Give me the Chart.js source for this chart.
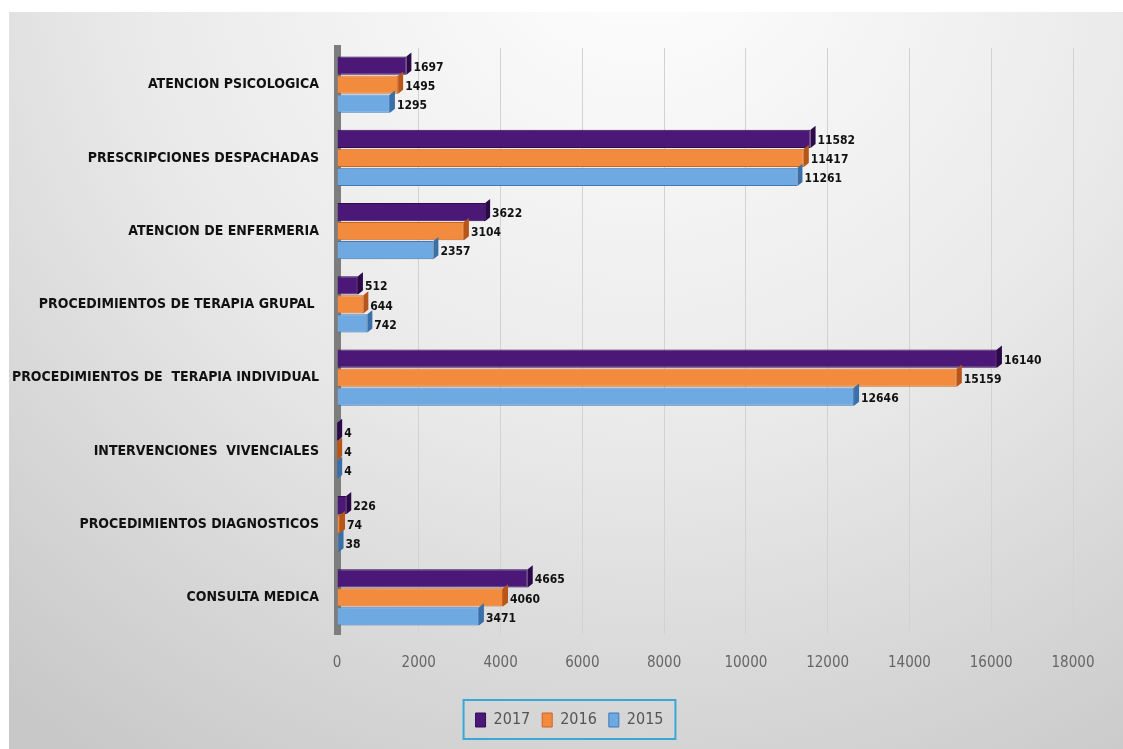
<!DOCTYPE html>
<html>
<head>
<meta charset="utf-8">
<script src="https://cdn.jsdelivr.net/npm/chart.js@4.4.1/dist/chart.umd.min.js"></script>
<style>
  html, body { margin: 0; padding: 0; background: #ffffff; }
  #wrap { width: 1123px; height: 749px; }
</style>
</head>
<body>
<div id="wrap"><canvas id="myChart" width="1123" height="749"></canvas></div>
<script>
const categories = [
  "ATENCION PSICOLOGICA",
  "PRESCRIPCIONES DESPACHADAS",
  "ATENCION DE ENFERMERIA",
  "PROCEDIMIENTOS DE TERAPIA GRUPAL ",
  "PROCEDIMIENTOS DE  TERAPIA INDIVIDUAL",
  "INTERVENCIONES  VIVENCIALES",
  "PROCEDIMIENTOS DIAGNOSTICOS",
  "CONSULTA MEDICA"
];
const values2017 = [1697, 11582, 3622, 512, 16140, 4, 226, 4665];
const values2016 = [1495, 11417, 3104, 644, 15159, 4, 74, 4060];
const values2015 = [1295, 11261, 2357, 742, 12646, 4, 38, 3471];
const xTicks = [0, 2000, 4000, 6000, 8000, 10000, 12000, 14000, 16000, 18000];

const FONT = "'DejaVu Sans Condensed', 'Liberation Sans Narrow', 'Open Sans', sans-serif";

// gray panel behind everything
const backgroundPanel = {
  id: "backgroundPanel",
  beforeDraw(chart) {
    const c = chart.ctx;
    const g = c.createRadialGradient(640, -80, 50, 640, -80, 1000);
    g.addColorStop(0, "#fdfdfd");
    g.addColorStop(0.5, "#e9e9e9");
    g.addColorStop(1, "#c8c8c8");
    c.save();
    c.fillStyle = "#ffffff";
    c.fillRect(0, 0, chart.width, chart.height);
    c.fillStyle = g;
    c.fillRect(9, 12, chart.width - 9, chart.height - 12);
    c.restore();
  }
};

// little 3d end caps on the bars
const barCaps = {
  id: "barCaps",
  afterDatasetsDraw(chart) {
    const c = chart.ctx;
    const sides = ["#2c0a4a", "#b8561a", "#3a6fa8"];
    chart.data.datasets.forEach((ds, di) => {
      const meta = chart.getDatasetMeta(di);
      meta.data.forEach((bar) => {
        const h = bar.height;
        const top = bar.y - h / 2;
        c.save();
        c.fillStyle = sides[di];
        c.beginPath();
        c.moveTo(bar.x, top);
        c.lineTo(bar.x + 5, top - 4);
        c.lineTo(bar.x + 5, top + h - 4);
        c.lineTo(bar.x, top + h);
        c.closePath();
        c.fill();
        c.restore();
      });
    });
  }
};

// value labels at the end of each bar
const valueLabels = {
  id: "valueLabels",
  afterDatasetsDraw(chart) {
    const c = chart.ctx;
    c.save();
    c.font = "bold 12px " + FONT;
    c.fillStyle = "#111111";
    c.textAlign = "left";
    c.textBaseline = "middle";
    chart.data.datasets.forEach((ds, di) => {
      const meta = chart.getDatasetMeta(di);
      meta.data.forEach((bar, i) => {
        c.fillText(ds.data[i], bar.x + 7, bar.y + 2);
      });
    });
    c.restore();
  }
};

// nudge the legend right and frame it
const legendFrame = {
  id: "legendFrame",
  afterUpdate(chart) {
    const lg = chart.legend;
    lg.left += 28;
    lg.right += 28;
  },
  afterDraw(chart) {
    const lg = chart.legend;
    const w = lg.lineWidths ? lg.lineWidths[0] : 180;
    const cx = (lg.left + lg.right) / 2;
    const c = chart.ctx;
    c.save();
    c.strokeStyle = "#3aa7d9";
    c.lineWidth = 2;
    c.strokeRect(cx - w / 2 - 6, lg.top, w + 12, lg.height + 1);
    c.restore();
  }
};

const data = {
  labels: categories,
  datasets: [
    {
      label: "2017",
      data: values2017,
      backgroundColor: "#4b1878",
      borderColor: "#2e0c4e",
      borderWidth: 1,
    },
    {
      label: "2016",
      data: values2016,
      backgroundColor: "#f28b3e",
      borderColor: "#c9651f",
      borderWidth: 1,
    },
    {
      label: "2015",
      data: values2015,
      backgroundColor: "#6ea9e2",
      borderColor: "#3f79b9",
      borderWidth: 1,
    },
  ],
};

const config = {
  type: "bar",
  data: data,
  options: {
    indexAxis: "y",
    responsive: false,
    animation: false,
    categoryPercentage: 0.78,
    barPercentage: 0.95,
    layout: { padding: { left: 10, right: 50, top: 48, bottom: 11 } },
    scales: {
      x: {
        min: 0,
        max: 18000,
        afterBuildTicks: (scale) => { scale.ticks = xTicks.map((v) => ({ value: v })); },
        afterFit: (scale) => { scale.height = 66; },
        grid: { color: "#d2d2d2", lineWidth: 1, drawTicks: false },
        border: { display: false },
        ticks: {
          padding: 20,
          color: "#666666",
          font: { family: FONT, size: 15 },
          callback: (v) => String(v),
        },
      },
      y: {
        afterFit: (scale) => { scale.width = 327; },
        grid: { display: false, drawTicks: false },
        border: { display: true, color: "#7d7d7d", width: 7 },
        ticks: {
          padding: 18,
          color: "#111111",
          font: { family: FONT, size: 14, weight: "bold" },
        },
      },
    },
    plugins: {
      legend: {
        position: "bottom",
        labels: {
          boxWidth: 10,
          boxHeight: 14,
          padding: 12,
          color: "#555555",
          font: { family: FONT, size: 16 },
        },
      },
      tooltip: { enabled: false },
    },
  },
  plugins: [backgroundPanel, barCaps, valueLabels, legendFrame],
};

const ctx1 = document.getElementById("myChart");
const chart1 = new Chart(ctx1, config);
</script>
</body>
</html>
